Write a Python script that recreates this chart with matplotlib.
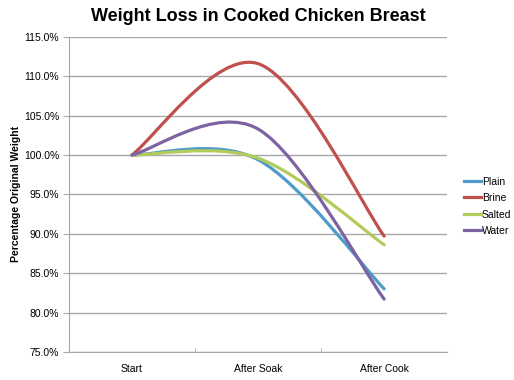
import matplotlib
matplotlib.use("Agg")
import matplotlib.pyplot as plt
from matplotlib.path import Path
from matplotlib.patches import PathPatch
from matplotlib.lines import Line2D
from matplotlib.ticker import FuncFormatter, MultipleLocator, FixedLocator

plt.rcParams['font.family'] = ['Liberation Sans', 'DejaVu Sans']

# --- Data ---
stages = ["Start", "After Soak", "After Cook"]
plain  = [100.0, 99.4, 83.0]
brine  = [100.0, 111.6, 89.7]
salted = [100.0, 99.6, 88.6]
water  = [100.0, 103.3, 81.7]

series = [("Plain", plain, "#4f9bc9"),
          ("Brine", brine, "#c0504d"),
          ("Salted", salted, "#b2cb5c"),
          ("Water", water, "#7d63a3")]


def smooth_path(xs, ys):
    # Excel-like smoothed line: cubic bezier, catmull-rom control points
    pts = list(zip(xs, ys))
    n = len(pts)
    verts = [pts[0]]
    codes = [Path.MOVETO]
    for i in range(n - 1):
        p0 = pts[max(i - 1, 0)]
        p1 = pts[i]
        p2 = pts[i + 1]
        p3 = pts[min(i + 2, n - 1)]
        c1 = (p1[0] + (p2[0] - p0[0]) / 6, p1[1] + (p2[1] - p0[1]) / 6)
        c2 = (p2[0] - (p3[0] - p1[0]) / 6, p2[1] - (p3[1] - p1[1]) / 6)
        verts += [c1, c2, p2]
        codes += [Path.CURVE4] * 3
    return Path(verts, codes)


fig = plt.figure(figsize=(5.14, 3.8), dpi=100)
ax = fig.add_axes([0.134, 0.074, 0.736, 0.829])

x = list(range(len(stages)))
handles = []
for name, vals, col in series:
    patch = PathPatch(smooth_path(x, vals), fill=False, edgecolor=col,
                      lw=2.3, capstyle='round', joinstyle='round', zorder=3)
    ax.add_patch(patch)
    handles.append(Line2D([], [], color=col, lw=2.3, label=name))

ax.set_xlim(-0.5, 2.5)
ax.set_ylim(75, 115)
ax.yaxis.set_major_locator(MultipleLocator(5))
ax.yaxis.set_major_formatter(FuncFormatter(lambda v, p: f"{v:.1f}%"))
ax.set_xticks(x)
ax.set_xticklabels(stages)
ax.xaxis.set_minor_locator(FixedLocator([0.5, 1.5]))

ax.grid(axis='y', color='#a8a8a8', lw=1.0)
ax.set_axisbelow(True)
for s in ['top', 'right']:
    ax.spines[s].set_visible(False)
ax.spines['left'].set_color('#a8a8a8')
ax.spines['bottom'].set_color('#a8a8a8')
ax.tick_params(axis='y', length=4, color='#a8a8a8', labelsize=7.5, pad=3)
ax.tick_params(axis='x', which='major', length=0, labelsize=7.5, pad=9)
ax.tick_params(axis='x', which='minor', length=3, direction='in', color='#a8a8a8')

ax.set_ylabel("Percentage Original Weight", fontsize=7.5, fontweight='bold', labelpad=2)
fig.text(0.502, 0.957, "Weight Loss in Cooked Chicken Breast", ha='center', va='center',
         fontsize=13, fontweight='bold')

fig.legend(handles=handles, loc='center left', bbox_to_anchor=(0.885, 0.457),
           frameon=False, fontsize=7.5, handlelength=1.6, handletextpad=0.1,
           labelspacing=0.62)

fig.savefig("out.png", dpi=100)
